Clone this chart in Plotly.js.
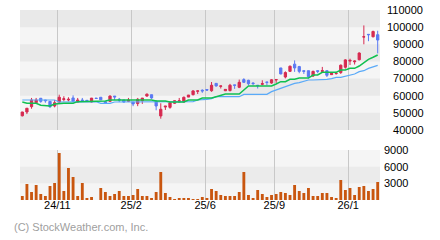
<!DOCTYPE html>
<html><head><meta charset="utf-8">
<script src="https://cdn.plot.ly/plotly-3.0.1.min.js"></script>
<style>html,body{margin:0;padding:0;background:#fff;}#chart{width:440px;height:240px;}</style>
</head><body><div id="chart"></div>
<script>
// Weekly OHLC (slot 0 = oldest week)
const opens  = [48300,50500,53600,55900,58500,57500,56700,54000,56300,57800,57500,58700,56300,57500,57300,56300,58600,59100,56500,56700,
                59800,57900,57500,56700,56300,55400,57100,59800,60600,56700,48200,53400,53200,55600,56300,56300,59200,60600,62600,63200,
                63600,62900,67200,65500,62900,63000,66300,64900,69400,69000,67400,66100,66700,68000,67400,69200,76200,70900,74200,78400,
                77000,74600,74600,71500,74600,74200,74600,72300,72900,73500,76600,80200,79800,81000,94200,95800,94400,95600];
const highs  = [50600,52800,58700,58700,58700,57500,56700,57500,60600,59700,59100,60200,58700,58700,57500,58700,58600,59100,56700,60200,
                59800,58700,57500,58700,56300,58700,58700,61300,60600,57500,55600,54000,56000,57300,58700,59500,60400,63200,63000,63700,
                63800,68000,67200,65700,63900,66900,66300,69400,70200,69300,67800,66100,69000,68000,69700,69400,76200,74200,77600,80600,
                77400,74600,74600,74600,74600,76800,74600,73500,73900,78200,81300,81600,80600,85300,101000,95800,97900,97900];
const lows   = [47900,49300,52400,55200,55900,55900,52800,53200,55900,56700,56700,56300,55900,56700,56300,56000,58400,57500,55400,56300,
                57500,56300,55900,56300,53900,53900,55200,59400,58200,51500,46600,51700,52400,55200,56300,56000,59200,60200,61000,61700,
                62800,62300,65300,64200,62700,62500,64000,64400,67500,66100,66100,64200,66100,66100,67000,67500,72500,70100,73900,73900,
                73100,72700,70100,70900,73100,73900,70900,72300,72300,72700,75800,77900,78200,80600,90000,91800,94000,84700];
const closes = [50500,52700,57500,57500,56700,57100,53600,55900,59100,58200,57900,56700,57500,57100,56700,58600,58400,57600,55600,59800,
                59300,57500,56300,57500,55200,57900,58600,60900,58700,54000,52100,53900,55900,57100,57100,59100,60400,62800,62800,62800,
                63300,66100,65700,65700,63700,66100,66100,67800,67800,67000,67100,65900,67000,67800,69300,69400,72700,73500,77200,76200,
                74200,74200,71100,74200,74200,74600,71900,73100,73100,77800,80900,80600,80200,84900,94400,95600,97500,92500];
const volumes = [720,2880,1440,2700,1080,720,2520,3060,8460,1620,5760,4140,720,3060,360,540,0,2160,1440,720,
                 1080,1620,720,720,900,1980,720,720,360,1440,5040,1260,540,180,360,360,360,180,180,540,
                 360,1980,1620,900,720,720,720,1440,5040,900,360,1800,1080,540,900,1080,1440,1260,900,2700,
                 1620,1260,2160,720,720,1260,1260,540,360,3600,1800,2160,900,2340,2520,1620,1980,3240];
// Moving averages as drawn
const maShort = [56330,55570,55570,55570,54400,54000,54000,55170,55570,55570,55570,55570,56530,56530,56530,56530,56530,56920,56920,57500,
                 57500,57500,57500,57500,57500,57500,57500,57500,57500,56920,56920,56920,56330,56330,56330,56330,57500,57500,57500,58670,
                 58600,58700,59440,60420,61000,61000,61000,61000,63330,65670,65670,65670,65670,65670,65670,66830,68190,68190,69580,69580,
                 70330,70330,70330,72080,72080,73630,73630,73630,73630,75000,75000,75970,75970,77330,79280,81250,82420,83750];
const maLong  = [57500,57500,57500,57500,57500,57500,57500,57500,56330,56330,56330,56330,56330,56530,56530,56530,56530,55570,55570,55570,
                 56330,56330,56330,56330,56330,56330,56330,56330,56330,56530,56530,56530,56530,56530,56530,56530,56530,56530,57500,57500,
                 57890,58300,59440,59440,59440,59440,59440,59440,60800,60800,60800,60800,60800,60800,62360,63330,64310,65670,66250,67230,
                 67620,68190,69170,69170,69170,69170,69580,69970,70720,70720,71500,72080,72670,74030,74610,75970,76940,77720];
// Axis labels
const monthLabels = ['24/11','25/2','25/6','25/9','26/1'];
const monthSlots  = [8,24,40,55,71];
const priceTicks  = [40000,50000,60000,70000,80000,90000,100000,110000];
const volumeTicks = [3000,6000,9000];

const slots = closes.map((_, i) => i);
const RED = '#d62a50', BLUE = '#5b79f3';

const traces = [
  {type:'scatter', mode:'lines', x:slots, y:maLong, xaxis:'x', yaxis:'y',
   line:{color:'#5aaaf8', width:1.2}, hoverinfo:'skip'},
  {type:'scatter', mode:'lines', x:slots, y:maShort, xaxis:'x', yaxis:'y',
   line:{color:'#10c050', width:1.5}, hoverinfo:'skip'},
  {type:'candlestick', x:slots, open:opens, high:highs, low:lows, close:closes, xaxis:'x', yaxis:'y',
   whiskerwidth:0,
   increasing:{line:{color:RED, width:1}, fillcolor:RED},
   decreasing:{line:{color:BLUE, width:1}, fillcolor:BLUE}},
  {type:'bar', x:slots, y:volumes, xaxis:'x2', yaxis:'y2', width:0.62,
   marker:{color:'#c9560f', line:{width:0}}}
];

const bands = [];
[[100000,110000],[80000,90000],[60000,70000],[40000,50000]].forEach(b => bands.push(
  {type:'rect', xref:'paper', yref:'y', x0:0, x1:1, y0:b[0], y1:b[1], fillcolor:'#e9e9e9', line:{width:0}, layer:'below'}));
bands.push({type:'rect', xref:'paper', yref:'y2', x0:0, x1:1, y0:3000, y1:6000, fillcolor:'#ebebeb', line:{width:0}, layer:'below'});

const tickFont = {family:'Liberation Sans, Arial, sans-serif', size:11, color:'#000'};
const tv = monthSlots.map(s => s - 0.4);
const xCommon = {range:[-0.5, 77.5], tickvals:tv, ticktext:monthLabels, showgrid:true, gridcolor:'#c8c8c8', gridwidth:1,
  zeroline:false, showline:false, ticks:'', fixedrange:true, tickfont:tickFont};

const layout = {
  width:440, height:240,
  margin:{l:20, r:60, t:10, b:40, pad:0},
  paper_bgcolor:'#ffffff', plot_bgcolor:'#f5f5f5',
  showlegend:false, boxgap:0.3,
  xaxis: Object.assign({}, xCommon, {anchor:'y', showticklabels:false, rangeslider:{visible:false}}),
  xaxis2: Object.assign({}, xCommon, {anchor:'y2', matches:'x', showticklabels:true, ticklabelstandoff:-3}),
  yaxis: {domain:[70/190, 1], range:[40000,110000], side:'right', tickvals:priceTicks,
    ticktext:priceTicks.map(v => String(v).padStart(6, '\u2007')),
    showgrid:false, zeroline:false, ticks:'', ticklabelstandoff:6, tickfont:tickFont, fixedrange:true},
  yaxis2: {domain:[0, 50/190], range:[0,9000], side:'right', tickvals:volumeTicks, ticktext:volumeTicks.map(String),
    showgrid:false, zeroline:false, ticks:'', ticklabelstandoff:3, tickfont:tickFont, fixedrange:true},
  shapes: bands,
  annotations:[{text:'(C) StockWeather.com, Inc.', xref:'paper', yref:'paper', x:-8/360, y:-27/190,
    xanchor:'left', yanchor:'middle', showarrow:false, font:{family:'Liberation Sans, Arial, sans-serif', size:11, color:'#a0a0a0'}}]
};

Plotly.newPlot('chart', traces, layout, {staticPlot:true, displayModeBar:false});
</script>
</body></html>
